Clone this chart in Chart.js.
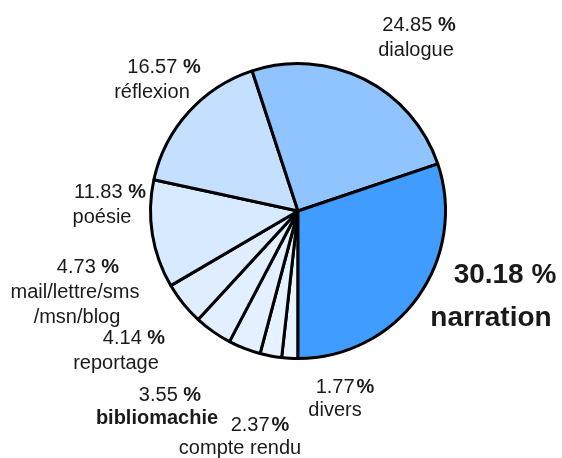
<!DOCTYPE html>
<html>
<head>
<meta charset="utf-8">
<script src="https://cdn.jsdelivr.net/npm/chart.js@4"></script>
<style>
  html, body { margin: 0; padding: 0; background: #fff; }
  #wrap { width: 562px; height: 458px; }
</style>
</head>
<body>
<div id="wrap"><canvas id="pie-chart"></canvas></div>
<script>
// donnees du camembert (sens horaire a partir du bas)
const categories = ['divers', 'compte rendu', 'bibliomachie', 'reportage', 'mail/lettre/sms/msn/blog', 'poésie', 'réflexion', 'dialogue', 'narration'];
const shares = [1.77, 2.37, 3.55, 4.14, 4.73, 11.83, 16.57, 24.85, 30.18];
const pctLabels = ['1.77', '2.37', '3.55', '4.14', '4.73', '11.83', '16.57', '24.85', '30.18'];
const nameLines = [['divers'], ['compte rendu'], ['bibliomachie'], ['reportage'], ['mail/lettre/sms', '/msn/blog'], ['poésie'], ['réflexion'], ['dialogue'], ['narration']];

const sliceColors = ['#e9f3ff', '#e6f2ff', '#e4f0ff', '#e2efff', '#dfedff', '#d8eaff', '#c4dfff', '#8fc4ff', '#409cff'];

// placement des etiquettes : [x centre pct, y pct, x centre nom, y nom]
const labelPlace = [
    [345, 387, 335, 410],
    [260, 425, 240, 448],
    [170, 395, 157, 418],
    [134, 338, 116, 363],
    [88, 267, 75, 292],
    [110, 192, 102, 217],
    [164, 67, 152, 92],
    [419, 25, 416, 50],
    [505, 275, 491, 318]
];

const FONT = 'Liberation Sans, Arial, sans-serif';

const labelPlugin = {
    id: 'sliceLabels',
    afterDraw(chart) {
        const ctx = chart.ctx;
        ctx.save();
        ctx.fillStyle = '#1a1a1a';
        ctx.textBaseline = 'middle';
        categories.forEach((cat, i) => {
            const [px, py, nx, ny] = labelPlace[i];
            const big = i === categories.length - 1;
            const size = big ? 28 : 20;
            const numFont = (big ? 'bold ' : '') + size + 'px ' + FONT;
            const pctFont = 'bold ' + size + 'px ' + FONT;
            const num = pctLabels[i];
            ctx.textAlign = 'left';
            ctx.font = numFont;
            const wNum = ctx.measureText(num).width;
            const wGap = i <= 1 ? size * 0.1 : ctx.measureText(' ').width;
            ctx.font = pctFont;
            const wPct = ctx.measureText('%').width;
            const x = px - (wNum + wGap + wPct) / 2;
            ctx.font = numFont;
            ctx.fillText(num, x, py);
            ctx.font = pctFont;
            ctx.fillText('%', x + wNum + wGap, py);

            const nameBold = big || cat === 'bibliomachie';
            ctx.font = (nameBold ? 'bold ' : '') + size + 'px ' + FONT;
            ctx.textAlign = 'center';
            nameLines[i].forEach((line, k) => {
                const lx = k === 0 ? nx : nx + 2;
                ctx.fillText(line, lx, ny + k * 25);
            });
        });
        ctx.restore();
    }
};

new Chart(document.getElementById('pie-chart'), {
    type: 'pie',
    data: {
        labels: categories,
        datasets: [{
            data: shares,
            backgroundColor: sliceColors,
            borderColor: '#000',
            borderWidth: 3
        }]
    },
    options: {
        responsive: true,
        maintainAspectRatio: false,
        animation: false,
        rotation: 180,
        layout: { padding: { left: 149, right: 115, top: 62, bottom: 98 } },
        plugins: {
            legend: { display: false },
            tooltip: { enabled: false }
        }
    },
    plugins: [labelPlugin]
});
</script>
</body>
</html>
